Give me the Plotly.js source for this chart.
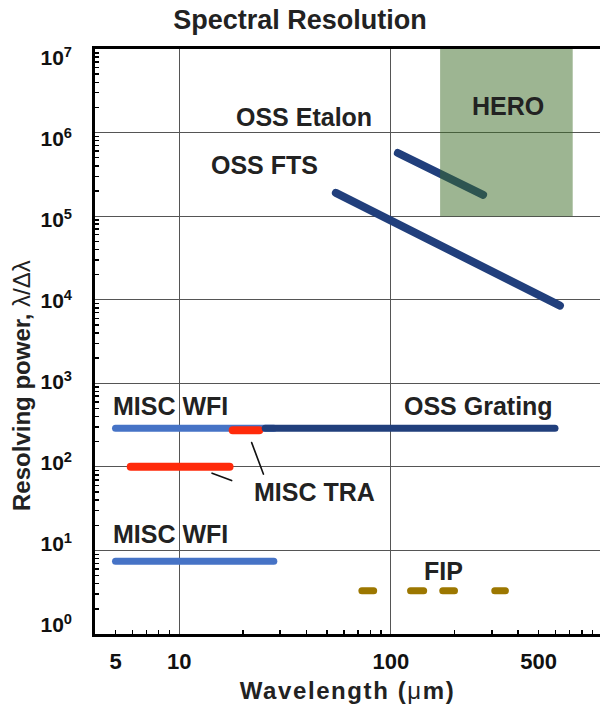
<!DOCTYPE html>
<html><head><meta charset="utf-8">
<script src="https://cdn.plot.ly/plotly-3.0.1.min.js"></script>
<style>
html,body{margin:0;padding:0;background:#fff}
#chart{width:600px;height:706px}
.js-line{stroke-linecap:round}
.xtitle{letter-spacing:1.6px}
</style></head><body><div id="chart"></div>
<script>
// ---- data (wavelength in micron, resolving power) ----
const heroX = [171, 171, 724, 724, 171];
const heroR = [1e5, 1e7, 1e7, 1e5, 1e5];
const etalonX = [108, 273];
const etalonR = [5.7e5, 1.8e5];
const ftsX = [55, 630];
const ftsR = [1.9e5, 8.5e3];
const gratingX = [25.5, 597];
const gratingR = [290, 290];
const wfiX = [5.0, 28];
const wfiHighR = [290, 290];
const wfiLowR = [7.4, 7.4];
const traHighX = [17.9, 23.9];
const traHighR = [275, 275];
const traLowX = [5.9, 17.3];
const traLowR = [100, 100];
const fipX = [73, 83, null, 124, 143, null, 176, 200, null, 310, 348];
const fipR = [3.3, 3.3, null, 3.3, 3.3, null, 3.3, 3.3, null, 3.3, 3.3];
const leaderX = [22, 25, null, 14.3, 17.7];
const leaderR = [195, 82, null, 84, 68.5];

const labelText = ['OSS Etalon', 'OSS FTS', 'HERO', 'MISC WFI', 'OSS Grating', 'MISC TRA', 'MISC WFI', 'FIP'];
const labelX = [38.9, 25.4, 358, 9.12, 259, 43.4, 9.12, 177];
const labelR = [1.54e6, 4.09e5, 2.08e6, 530, 530, 49.5, 15.8, 5.7];

const xTickVals = [5, 10, 100, 500];
const xTickText = ['5', '10', '100', '500'];
const xGridVals = [10, 100];
const xMinor = [5, 6, 7, 8, 9, 20, 30, 40, 50, 60, 70, 80, 90, 200, 300, 400, 500, 600, 700, 800, 900];
const yTickVals = [1, 10, 100, 1e3, 1e4, 1e5, 1e6, 1e7];
const yTickText = ['10<sup>0</sup>', '10<sup>1</sup>', '10<sup>2</sup>', '10<sup>3</sup>', '10<sup>4</sup>', '10<sup>5</sup>', '10<sup>6</sup>', '10<sup>7</sup>'];
const yMinor = [];
for (let n = 0; n < 7; n++) for (let k = 2; k <= 9; k++) yMinor.push(k * Math.pow(10, n));

// ---- styles ----
const FONT = 'Liberation Sans, Arial, Helvetica, sans-serif';
const DARK = '#213f7c';
const WFI = '#4673c6';
const RED = '#ff2a0a';
const FIP = '#9c7700';
const TXT = '#222222';

function seg(x, y, color, width) {
  return {x: x, y: y, type: 'scatter', mode: 'lines', connectgaps: false,
    line: {color: color, width: width}, hoverinfo: 'skip', showlegend: false};
}

const traces = [
  seg(ftsX, ftsR, DARK, 8),
  seg(etalonX, etalonR, DARK, 8),
  seg(wfiX, wfiHighR, WFI, 7),
  seg(traHighX, traHighR, RED, 8),
  seg(gratingX, gratingR, DARK, 7),
  seg(traLowX, traLowR, RED, 8),
  seg(wfiX, wfiLowR, WFI, 7),
  seg(fipX, fipR, FIP, 7),
  seg(leaderX, leaderR, '#111', 1.6),
  {x: heroX, y: heroR, type: 'scatter', mode: 'lines', fill: 'toself',
   fillcolor: 'rgba(59,107,37,0.5)', line: {width: 0, color: 'rgba(0,0,0,0)'},
   hoverinfo: 'skip', showlegend: false},
  {x: [], y: [], xaxis: 'x2', yaxis: 'y', type: 'scatter', showlegend: false},
  {x: [], y: [], xaxis: 'x', yaxis: 'y3', type: 'scatter', showlegend: false}
];

const xr = [Math.log10(4), 2.9887];
const yr = [0, 7];

const annotations = labelText.map((t, i) => ({
  x: Math.log10(labelX[i]), y: Math.log10(labelR[i]), xref: 'x', yref: 'y',
  text: t, showarrow: false, xanchor: 'center', yanchor: 'middle',
  font: {family: FONT, size: 25, color: TXT, weight: 'bold'}
}));
annotations.push({
  xref: 'paper', yref: 'paper', x: 0, y: 0.424, xshift: -73,
  xanchor: 'center', yanchor: 'middle', textangle: -90, showarrow: false,
  text: 'Resolving power, <span style="font-weight:normal">λ/Δλ</span>',
  font: {family: FONT, size: 24, color: TXT, weight: 'bold'}
});

const layout = {
  width: 600, height: 706,
  margin: {l: 95, r: 0, t: 49, b: 72},
  paper_bgcolor: '#fff', plot_bgcolor: '#fff',
  showlegend: false,
  title: {text: 'Spectral Resolution', x: 0.5, xref: 'container', xanchor: 'center',
          y: 1 - 20 / 706, yref: 'container', yanchor: 'middle',
          font: {family: FONT, size: 27, color: TXT, weight: 'bold'}},
  xaxis: {
    type: 'log', range: xr, tickmode: 'array', tickvals: xTickVals, ticktext: xTickText,
    showgrid: false, zeroline: false, ticks: '', showline: true, linecolor: '#000', linewidth: 3,
    mirror: true, ticklabelstandoff: 6,
    tickfont: {family: FONT, size: 22, color: '#111', weight: 'bold'},
    minor: {tickmode: 'array', tickvals: xMinor, ticks: 'inside', ticklen: 4, tickwidth: 1.5, tickcolor: '#000', showgrid: false},
    title: {text: 'Wavelength (<span style="font-weight:normal">μ</span>m)', standoff: 9,
            font: {family: FONT, size: 24, color: TXT, weight: 'bold'}}
  },
  xaxis2: {
    type: 'log', range: xr, overlaying: 'x', anchor: 'y', tickmode: 'array', tickvals: xGridVals,
    showticklabels: false, ticks: '', showgrid: true, gridcolor: '#555', gridwidth: 1.2,
    showline: false, zeroline: false
  },
  yaxis: {
    type: 'log', range: yr, tickmode: 'array', tickvals: yTickVals, showticklabels: false,
    showgrid: true, gridcolor: '#555', gridwidth: 1.2, zeroline: false, ticks: '',
    showline: true, linecolor: '#000', linewidth: 3,
    minor: {tickmode: 'array', tickvals: yMinor, ticks: 'inside', ticklen: 4, tickwidth: 1.5, tickcolor: '#000', showgrid: false}
  },
  yaxis3: {
    type: 'log', range: [-0.111, 7.111], overlaying: 'y', anchor: 'x', side: 'left',
    tickmode: 'array', tickvals: yTickVals, ticktext: yTickText, showgrid: false,
    zeroline: false, ticks: '', showline: false, ticklabelstandoff: 22,
    tickfont: {family: FONT, size: 21, color: '#111', weight: 'bold'}
  },
  annotations: annotations
};

Plotly.newPlot('chart', traces, layout, {displayModeBar: false, staticPlot: true});
</script></body></html>
